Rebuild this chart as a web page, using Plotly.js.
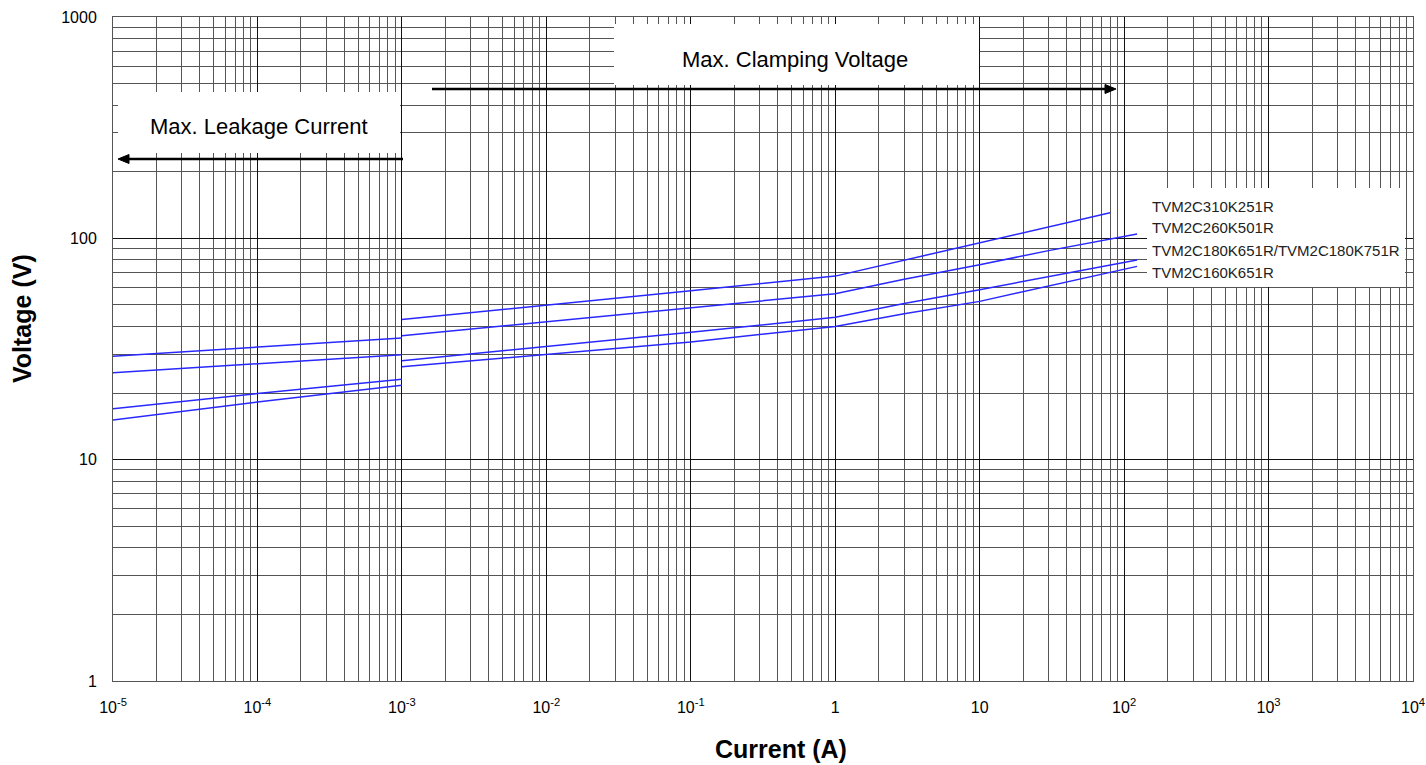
<!DOCTYPE html>
<html>
<head>
<meta charset="utf-8">
<script src="https://cdn.plot.ly/plotly-3.0.1.min.js"></script>
<style>
  html, body { margin: 0; padding: 0; background: #ffffff; }
  #chart { width: 1426px; height: 765px; }
</style>
</head>
<body>
<div id="chart"></div>
<script>
// ---- Data ----
const seriesNames = ['TVM2C310K251R', 'TVM2C260K501R', 'TVM2C180K651R/TVM2C180K751R', 'TVM2C160K651R'];

// Leakage-current segment (A)
const leakCurrent = [1e-5, 1e-4, 1e-3];
const leak310 = [29.3, 32.3, 35.5];
const leak260 = [24.7, 27.2, 29.8];
const leak180 = [17.0, 19.9, 23.1];
const leak160 = [15.1, 18.2, 21.7];

// Clamping-voltage segment (A)
const clampCurrent310 = [1e-3, 1e-2, 1e-1, 1, 3, 10, 30, 80];
const clamp310 = [43.0, 49.8, 58.0, 67.5, 79.5, 95.2, 112, 130.5];
const clampCurrent = [1e-3, 1e-2, 1e-1, 1, 3, 10, 30, 100, 123];
const clamp260 = [36.3, 41.9, 48.7, 56.2, 65.3, 76.0, 88.0, 102, 104.5];
const clamp180 = [28.0, 32.4, 37.6, 44.0, 50.8, 58.6, 67.0, 77.6, 79.8];
const clamp160 = [26.3, 29.8, 34.0, 40.0, 45.6, 51.9, 61.0, 72.7, 74.7];

// Tick labels
const xTickVals = [1e-5, 1e-4, 1e-3, 1e-2, 1e-1, 1, 10, 1e2, 1e3, 1e4];
const xTickText = ['10<sup>-5</sup>', '10<sup>-4</sup>', '10<sup>-3</sup>', '10<sup>-2</sup>', '10<sup>-1</sup>',
                   '1', '10', '10<sup>2</sup>', '10<sup>3</sup>', '10<sup>4</sup>'];
const yTickVals = [1, 10, 100, 1000];
const yTickText = ['1', '10', '100', '1000'];

const annLeak = 'Max. Leakage Current';
const annClamp = 'Max. Clamping Voltage';
const xTitle = 'Current (A)';
const yTitle = 'Voltage (V)';

// ---- Build ----
function minorVals(lo, hi) {
  const v = [];
  for (let e = lo; e < hi; e++) for (let m = 2; m <= 9; m++) v.push(m * Math.pow(10, e));
  return v;
}

const lineColor = 'rgb(40,40,255)';
const leakSets = [leak310, leak260, leak180, leak160];
const clampSets = [
  [clampCurrent310, clamp310],
  [clampCurrent, clamp260],
  [clampCurrent, clamp180],
  [clampCurrent, clamp160]
];

const traces = [];
seriesNames.forEach((name, i) => {
  traces.push({
    x: leakCurrent, y: leakSets[i], mode: 'lines', name: name + ' (leakage)',
    line: { color: lineColor, width: 1.5 }, showlegend: false, hoverinfo: 'x+y+name'
  });
  traces.push({
    x: clampSets[i][0], y: clampSets[i][1], mode: 'lines', name: name,
    line: { color: lineColor, width: 1.5 }, showlegend: false, hoverinfo: 'x+y+name'
  });
});

const FONT = 'Arial, "Liberation Sans", sans-serif';
const L = 113, T = 17, W = 1300, H = 664;
const px = v => (v - L) / W;          // pixel x -> paper
const py = v => (T + H - v) / H;      // pixel y -> paper

function arrowHead(xTip, yTip, dir) {
  // dir = -1 points left, +1 points right
  const back = xTip - dir * 11;
  return 'M ' + px(xTip) + ',' + py(yTip) +
         ' L ' + px(back) + ',' + py(yTip - 4.5) +
         ' L ' + px(back) + ',' + py(yTip + 4.5) + ' Z';
}

const shapes = [
  { type: 'rect', xref: 'paper', yref: 'paper', x0: px(118), x1: px(400), y0: py(153), y1: py(92),
    fillcolor: '#ffffff', line: { width: 0 }, layer: 'above' },
  { type: 'rect', xref: 'paper', yref: 'paper', x0: px(614), x1: px(979), y0: py(85), y1: py(24),
    fillcolor: '#ffffff', line: { width: 0 }, layer: 'above' },
  { type: 'rect', xref: 'paper', yref: 'paper', x0: px(1147), x1: px(1405), y0: py(287), y1: py(188),
    fillcolor: '#ffffff', line: { width: 0 }, layer: 'above' },
  // arrows
  { type: 'line', xref: 'paper', yref: 'paper', x0: px(403), x1: px(126), y0: py(159), y1: py(159),
    line: { color: '#000', width: 2.5 }, layer: 'above' },
  { type: 'path', xref: 'paper', yref: 'paper', path: arrowHead(118, 159, -1),
    fillcolor: '#000', line: { color: '#000', width: 1 }, layer: 'above' },
  { type: 'line', xref: 'paper', yref: 'paper', x0: px(432), x1: px(1108), y0: py(89), y1: py(89),
    line: { color: '#000', width: 2.5 }, layer: 'above' },
  { type: 'path', xref: 'paper', yref: 'paper', path: arrowHead(1116, 89, 1),
    fillcolor: '#000', line: { color: '#000', width: 1 }, layer: 'above' }
];

const annotations = [
  { xref: 'paper', yref: 'paper', x: px(259), y: py(127), text: annLeak, showarrow: false,
    font: { family: FONT, size: 22, color: '#000' }, xanchor: 'center', yanchor: 'middle' },
  { xref: 'paper', yref: 'paper', x: px(795), y: py(59), text: annClamp, showarrow: false,
    font: { family: FONT, size: 22, color: '#000' }, xanchor: 'center', yanchor: 'middle' },
  // axis titles
  { xref: 'paper', yref: 'paper', x: px(22), y: py(318), text: '<b>' + yTitle + '</b>', textangle: -90,
    showarrow: false, font: { family: FONT, size: 25, color: '#000' }, xanchor: 'center', yanchor: 'middle' },
  { xref: 'paper', yref: 'paper', x: px(781), y: py(749), text: '<b>' + xTitle + '</b>',
    showarrow: false, font: { family: FONT, size: 25, color: '#000' }, xanchor: 'center', yanchor: 'middle' }
];

// legend labels
const legendY = [206, 228, 250, 272];
seriesNames.forEach((name, i) => {
  annotations.push({ xref: 'paper', yref: 'paper', x: px(1150), y: py(legendY[i]), text: name,
    showarrow: false, font: { family: FONT, size: 15, color: '#222' }, xanchor: 'left', yanchor: 'middle' });
});

const layout = {
  width: 1426, height: 765,
  margin: { l: L, r: 1426 - L - W, t: T, b: 765 - T - H, pad: 0 },
  paper_bgcolor: '#ffffff', plot_bgcolor: '#ffffff',
  showlegend: false,
  font: { family: FONT, color: '#000' },
  xaxis: {
    type: 'log', range: [-5, 4], tickvals: xTickVals, ticktext: xTickText,
    tickfont: { family: FONT, size: 16, color: '#000' }, ticks: '', ticklabelstandoff: 12,
    showgrid: true, gridcolor: '#111', gridwidth: 1,
    minor: { tickvals: minorVals(-5, 4), showgrid: true, gridcolor: '#555', gridwidth: 1, ticks: '' },
    showline: true, linecolor: '#555', linewidth: 1, mirror: true, zeroline: false, fixedrange: true
  },
  yaxis: {
    type: 'log', range: [0, 3], tickvals: yTickVals, ticktext: yTickText,
    tickfont: { family: FONT, size: 16, color: '#000' }, ticks: '', ticklabelstandoff: 12,
    showgrid: true, gridcolor: '#111', gridwidth: 1,
    minor: { tickvals: minorVals(0, 3), showgrid: true, gridcolor: '#555', gridwidth: 1, ticks: '' },
    showline: true, linecolor: '#555', linewidth: 1, mirror: true, zeroline: false, fixedrange: true
  },
  shapes: shapes,
  annotations: annotations
};

Plotly.newPlot('chart', traces, layout, { displayModeBar: false, staticPlot: true });
</script>
</body>
</html>
